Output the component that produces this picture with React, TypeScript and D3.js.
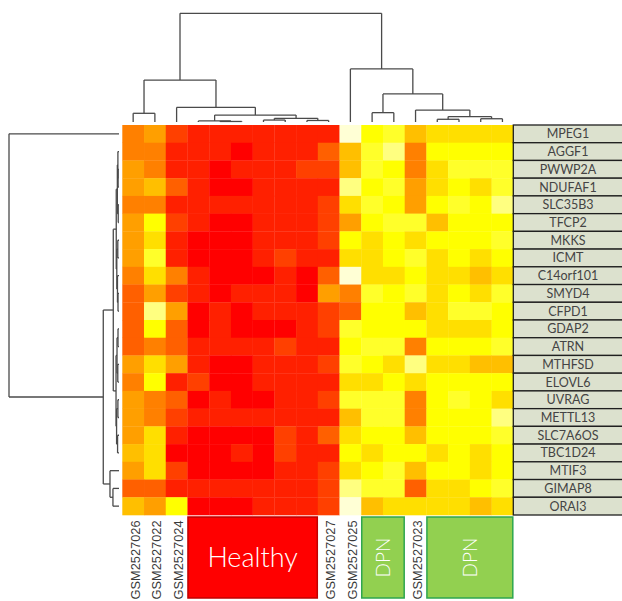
import React from "react";
import * as d3 from "d3";

// heat levels (0 = red ... 11 = near white), rows = genes, cols = samples
const genes = [
  "MPEG1", "AGGF1", "PWWP2A", "NDUFAF1", "SLC35B3", "TFCP2", "MKKS", "ICMT",
  "C14orf101", "SMYD4", "CFPD1", "GDAP2", "ATRN", "MTHFSD", "ELOVL6", "UVRAG",
  "METTL13", "SLC7A6OS", "TBC1D24", "MTIF3", "GIMAP8", "ORAI3",
];

const samples = [
  "GSM2527026", "GSM2527022", "GSM2527024", "", "", "", "", "", "",
  "GSM2527027", "GSM2527025", "", "", "GSM2527023", "", "", "", "",
];

const heatLevels = [
  [4, 5, 2, 1, 1, 1, 1, 1, 1, 1, 11, 8, 9, 6, 7, 7, 7, 7],
  [4, 4, 1, 1, 1, 0, 1, 1, 1, 3, 6, 9, 10, 4, 8, 8, 8, 8],
  [5, 4, 1, 1, 0, 1, 1, 1, 2, 2, 6, 9, 8, 4, 7, 9, 9, 9],
  [5, 6, 3, 1, 0, 0, 1, 1, 1, 1, 10, 8, 9, 5, 7, 8, 7, 9],
  [4, 4, 1, 1, 1, 1, 1, 1, 1, 2, 7, 9, 8, 5, 8, 9, 8, 10],
  [5, 8, 2, 1, 0, 0, 1, 1, 1, 2, 5, 8, 9, 9, 6, 8, 8, 8],
  [5, 7, 1, 0, 0, 0, 1, 1, 1, 2, 8, 7, 8, 7, 8, 8, 8, 9],
  [5, 9, 1, 0, 0, 0, 1, 2, 1, 1, 7, 7, 8, 9, 7, 8, 7, 8],
  [4, 7, 4, 1, 0, 0, 0, 1, 0, 3, 11, 7, 7, 8, 7, 7, 6, 7],
  [3, 5, 2, 1, 0, 1, 1, 1, 0, 5, 4, 9, 8, 9, 7, 8, 7, 9],
  [3, 10, 5, 0, 1, 0, 1, 1, 1, 2, 3, 8, 8, 6, 7, 9, 9, 8],
  [3, 8, 3, 0, 1, 0, 0, 0, 1, 2, 9, 8, 8, 8, 7, 7, 7, 8],
  [3, 4, 3, 1, 1, 1, 1, 2, 1, 1, 8, 9, 9, 4, 8, 8, 8, 9],
  [5, 7, 5, 1, 0, 0, 1, 1, 1, 2, 9, 8, 7, 10, 7, 7, 6, 6],
  [4, 8, 1, 2, 0, 0, 1, 1, 1, 1, 7, 7, 8, 7, 8, 8, 8, 8],
  [5, 4, 3, 0, 1, 0, 0, 1, 1, 2, 9, 9, 9, 4, 8, 9, 8, 7],
  [5, 4, 2, 1, 1, 1, 1, 1, 1, 1, 6, 9, 9, 4, 8, 8, 8, 10],
  [5, 7, 1, 0, 0, 0, 0, 2, 1, 3, 7, 8, 8, 6, 8, 8, 8, 9],
  [6, 7, 0, 0, 0, 1, 0, 2, 1, 1, 8, 7, 8, 8, 7, 8, 7, 8],
  [5, 7, 2, 0, 0, 0, 0, 1, 1, 2, 7, 8, 9, 6, 8, 8, 7, 8],
  [3, 3, 1, 1, 1, 1, 1, 1, 1, 2, 10, 9, 9, 3, 7, 7, 8, 9],
  [6, 5, 8, 0, 0, 0, 1, 1, 1, 2, 11, 6, 7, 7, 7, 7, 6, 7],
];

// R heat.colors(12)
const heatColors = [
  "#FF0000", "#FF2000", "#FF4000", "#FF6000", "#FF8000", "#FF9F00",
  "#FFBF00", "#FFDF00", "#FFFF00", "#FFFF2A", "#FFFF80", "#FFFFD5",
];

// dendrograms: [height, left, right], leaves are indices
const colTree = [100,
  [38.6, [8, 0, 1], [13.5, 2, [6.4, [1, 3, [0.5, 4, 5]], [3.4, [1.8, 6, 7], [1.4, 8, 9]]]]],
  [48.8, 10, [25.8, [8.6, 11, 12], [11, 13, [5, [2.5, 14, 15], [3, 16, 17]]]]],
];

const rowTree = [100, 0,
  [14.3,
    [5.2,
      [2.5, [1.5, [1.0, 1, [0.8, 2, 3]], [0.7, 4, 5]], [2.0, [1.1, 6, 7], [1.4, 8, [0.9, 9, 10]]]],
      [2.7, [1.8, [0.9, 11, 12], [1.1, 13, 14]], [2.2, [1.0, 15, 16], [1.3, 17, 18]]],
    ],
    [8.2, 19, [5.5, 20, 21]],
  ],
];

const groups = [
  { label: "Healthy", from: 3, to: 8, fill: "#FF0000", stroke: "#C00000", vertical: false },
  { label: "DPN", from: 11, to: 12, fill: "#92D050", stroke: "#2EA64E", vertical: true },
  { label: "DPN", from: 14, to: 17, fill: "#92D050", stroke: "#2EA64E", vertical: true },
];

function walk(node, pos, hScale, segs) {
  if (typeof node === "number") return { p: pos(node), h: hScale(0) };
  const [h, l, r] = node;
  const a = walk(l, pos, hScale, segs);
  const b = walk(r, pos, hScale, segs);
  const y = hScale(h);
  segs.push([a.p, a.h, a.p, y], [a.p, y, b.p, y], [b.p, y, b.p, b.h]);
  return { p: (a.p + b.p) / 2, h: y };
}

export default function App() {
  const x = d3.scaleBand().domain(d3.range(samples.length)).range([122.3, 513.3]);
  const y = d3.scaleBand().domain(d3.range(genes.length)).range([125, 515]);
  const color = d3.scaleOrdinal().domain(d3.range(12)).range(heatColors);
  const cx = (i) => x(i) + x.bandwidth() / 2;
  const cy = (i) => y(i) + y.bandwidth() / 2;

  const topH = d3.scaleLinear().domain([0, 100]).range([122, 13.3]);
  const leftH = d3.scaleLinear().domain([0, 100]).range([119, 9]);

  const topSegs = [];
  walk(colTree, cx, topH, topSegs);
  const leftSegs = [];
  // same walk, coords swapped when drawn
  walk(rowTree, cy, leftH, leftSegs);

  const boxTop = 517;
  const boxBottom = 598;

  return (
    <svg width={622} height={601}
      style={{ position: "absolute", left: 0, top: 0, display: "block", background: "#fff" }}>
      {heatLevels.map((row, r) =>
        row.map((v, c) => (
          <rect key={r + "-" + c} x={x(c)} y={y(r)} width={x.bandwidth() + 0.3}
            height={y.bandwidth() + 0.3} fill={color(v)} />
        ))
      )}

      <g stroke="#4a4a4a" strokeWidth={1.3} fill="none">
        {topSegs.map((s, i) => (
          <line key={i} x1={s[0]} y1={s[1]} x2={s[2]} y2={s[3]} />
        ))}
        {leftSegs.map((s, i) => (
          <line key={i} x1={s[1]} y1={s[0]} x2={s[3]} y2={s[2]} />
        ))}
      </g>

      {genes.map((g, i) => (
        <g key={g}>
          <rect x={513.3} y={y(i)} width={110} height={y.bandwidth()}
            fill="#DCE1CE" stroke="#1f1f1f" strokeWidth={1.3} />
          <text x={568} y={cy(i)} dy="0.36em" textAnchor="middle"
            fontFamily="Lato, 'Open Sans', sans-serif" fontSize={12.5} fill="#444">{g}</text>
        </g>
      ))}

      {samples.map((s, i) =>
        s ? (
          <text key={s} transform={`translate(${cx(i) + 2},520.5) rotate(-90)`} dy="0.36em"
            textAnchor="end" fontFamily="'Liberation Sans', Arial, sans-serif"
            fontSize={12.8} fill="#3a3a3a">{s}</text>
        ) : null
      )}

      {groups.map((g, i) => {
        const x0 = x(g.from) + 0.5;
        const x1 = x(g.to) + x.bandwidth() - 0.5;
        const mx = (x0 + x1) / 2;
        const my = (boxTop + boxBottom) / 2;
        return (
          <g key={i}>
            <rect x={x0} y={boxTop} width={x1 - x0} height={boxBottom - boxTop}
              fill={g.fill} stroke={g.stroke} strokeWidth={1.5} />
            <text transform={`translate(${mx},${my}) rotate(${g.vertical ? -90 : 0})`}
              dy="0.36em" textAnchor="middle" fill="#fff"
              fontFamily="Lato, 'Open Sans', sans-serif" fontWeight={300}
              fontSize={g.vertical ? 19 : 27}>{g.label}</text>
          </g>
        );
      })}
    </svg>
  );
}
